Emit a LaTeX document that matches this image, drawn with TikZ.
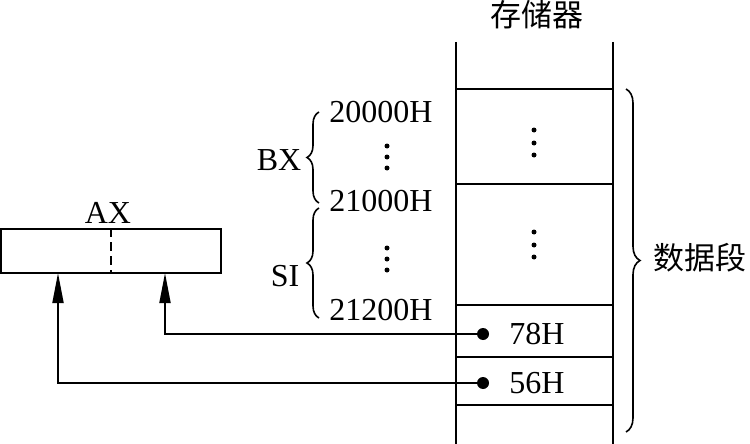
\documentclass[tikz,border=0pt]{standalone}
\usepackage{fontspec}
\setmainfont{Liberation Serif}
\newfontfamily\cjk{Noto Sans CJK SC}
\usetikzlibrary{decorations.pathreplacing,arrows.meta}
\tikzset{
  lbl/.style={font=\fontsize{32}{32}\selectfont, inner sep=0pt},
  cjklbl/.style={font=\cjk\fontsize{31}{31}\selectfont, inner sep=0pt},
  memline/.style={line width=1.8pt},
  conn/.style={line width=1.8pt, -{Triangle[length=30pt,width=11pt]}},
  bul/.style={circle, fill=black, inner sep=0pt, minimum size=12pt},
  brc/.style={line width=1.6pt, decorate, decoration={brace, amplitude=#1}},
  vdot/.style={circle, fill=black, inner sep=0pt, minimum size=5pt},
}
\begin{document}
\begin{tikzpicture}[x=1pt,y=-1pt]
\useasboundingbox (0,0) rectangle (750,444);
% memory column
\draw[memline] (456,42) -- (456,444);
\draw[memline] (613,42) -- (613,444);
\foreach \yy in {89,184,305,357,405} \draw[memline] (456,\yy) -- (613,\yy);
\node[cjklbl] (mem) at (537,15) {存储器};
% dots in memory cells
\foreach \yy in {130,143,155,232,245,257} \node[vdot] at (534,\yy) {};
% cell contents
\node[lbl] (v78) at (537,334) {78H};
\node[lbl] (v56) at (537,383) {56H};
\node[bul] (b78) at (483,334) {};
\node[bul] (b56) at (483,383) {};
% data segment brace
\draw[brc=14pt] (626,89) -- (626,432);
\node[cjklbl] (seg) at (700,258) {数据段};
% address labels
\node[lbl] (a1) at (381,112) {20000H};
\node[lbl] (a2) at (381,201) {21000H};
\node[lbl] (a3) at (381,310) {21200H};
\foreach \yy in {146,157,168,248,259,270} \node[vdot] at (387,\yy) {};
\draw[brc=12pt] (319,203) -- (319,112);
\draw[brc=12pt] (319,318) -- (319,208);
\node[lbl] (bx) at (279,160) {BX};
\node[lbl] (si) at (285,276) {SI};
% AX register
\node[draw, line width=1.8pt, minimum width=220pt, minimum height=44pt, inner sep=0pt] (ax) at (111,251) {};
\draw[line width=1.6pt, dash pattern=on 9pt off 5pt] (ax.north) -- (ax.south);
\node[lbl] (axl) at (108,213) {AX};
\coordinate (axL) at (58,273);
\coordinate (axR) at (165,273);
% connectors
\draw[conn] (b78.center) -| (axR);
\draw[conn] (b56.center) -| (axL);
\end{tikzpicture}
\end{document}
